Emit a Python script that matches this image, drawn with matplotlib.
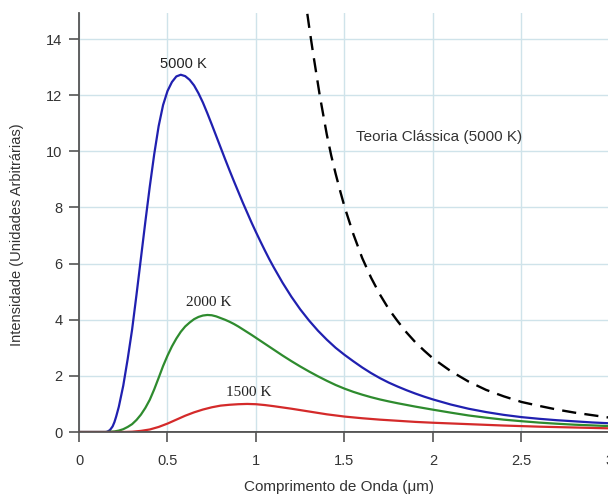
import numpy as np
import matplotlib
matplotlib.use("Agg")
from matplotlib import pyplot as plt

# curves (wavelength in um, intensity arb. units)
x_5000 = [0.0, 0.10, 0.15, 0.16, 0.175, 0.19, 0.20, 0.21, 0.225, 0.25, 0.275, 0.30,
          0.325, 0.35, 0.375, 0.40, 0.425, 0.45, 0.475, 0.50, 0.525, 0.55, 0.575, 0.60,
          0.625, 0.65, 0.675, 0.70, 0.725, 0.75, 0.775, 0.80, 0.825, 0.85, 0.875, 0.90,
          0.925, 0.95, 0.975, 1.00, 1.025, 1.05, 1.075, 1.10, 1.15, 1.20, 1.25, 1.30,
          1.35, 1.40, 1.45, 1.50, 1.55, 1.60, 1.65, 1.70, 1.75, 1.80, 1.85, 1.90, 1.95,
          2.00, 2.10, 2.20, 2.30, 2.40, 2.50, 2.60, 2.70, 2.80, 2.90, 3.00]
y_5000 = [0.0, 0.0, 0.0, 0.01, 0.07, 0.2, 0.35, 0.55, 0.9, 1.65, 2.6, 3.65,
          4.9, 6.2, 7.5, 8.75, 9.9, 10.9, 11.65, 12.15, 12.47, 12.67, 12.73, 12.68,
          12.55, 12.35, 12.07, 11.74, 11.36, 10.96, 10.55, 10.14, 9.73, 9.33, 8.94, 8.56,
          8.18, 7.82, 7.46, 7.12, 6.79, 6.47, 6.16, 5.87, 5.32, 4.82, 4.37, 3.97,
          3.61, 3.29, 3.0, 2.75, 2.52, 2.30, 2.10, 1.92, 1.76, 1.62, 1.49, 1.37, 1.26,
          1.16, 0.98, 0.83, 0.71, 0.61, 0.53, 0.47, 0.42, 0.38, 0.34, 0.31]

x_2000 = [0.0, 0.15, 0.20, 0.225, 0.25, 0.275, 0.30, 0.325, 0.35, 0.375, 0.40, 0.425,
          0.45, 0.475, 0.50, 0.525, 0.55, 0.575, 0.60, 0.625, 0.65, 0.675, 0.70, 0.725,
          0.75, 0.775, 0.80, 0.825, 0.85, 0.875, 0.90, 0.925, 0.95, 0.975, 1.00, 1.05,
          1.10, 1.15, 1.20, 1.25, 1.30, 1.35, 1.40, 1.45, 1.50, 1.55, 1.60, 1.65, 1.70,
          1.75, 1.80, 1.85, 1.90, 1.95, 2.00, 2.10, 2.20, 2.30, 2.40, 2.50, 2.60, 2.70,
          2.80, 2.90, 3.00]
y_2000 = [0.0, 0.0, 0.02, 0.05, 0.10, 0.18, 0.28, 0.43, 0.62, 0.86, 1.15, 1.52,
          1.93, 2.35, 2.72, 3.05, 3.33, 3.57, 3.76, 3.9, 4.02, 4.1, 4.15, 4.17,
          4.16, 4.12, 4.06, 4.0, 3.93, 3.85, 3.76, 3.66, 3.56, 3.46, 3.355, 3.145,
          2.935, 2.725, 2.525, 2.335, 2.155, 1.985, 1.825, 1.675, 1.545, 1.43, 1.33, 1.24,
          1.16, 1.09, 1.025, 0.965, 0.905, 0.85, 0.795, 0.69, 0.59, 0.51, 0.44, 0.385,
          0.335, 0.295, 0.26, 0.235, 0.21]

x_1500 = [0.0, 0.25, 0.30, 0.35, 0.40, 0.45, 0.50, 0.55, 0.60, 0.65, 0.70, 0.75, 0.80,
          0.85, 0.90, 0.95, 1.00, 1.05, 1.10, 1.15, 1.20, 1.25, 1.30, 1.35, 1.40, 1.45,
          1.50, 1.60, 1.70, 1.80, 1.90, 2.00, 2.20, 2.40, 2.60, 2.80, 3.00]
y_1500 = [0.0, 0.0, 0.01, 0.04, 0.09, 0.18, 0.30, 0.44, 0.58, 0.70, 0.80, 0.88, 0.94,
          0.97, 0.99, 1.0, 0.99, 0.96, 0.92, 0.875, 0.83, 0.78, 0.73, 0.68, 0.63, 0.59,
          0.55, 0.49, 0.44, 0.40, 0.36, 0.33, 0.28, 0.23, 0.19, 0.16, 0.13]

x_classic = [1.29, 1.30, 1.32, 1.34, 1.36, 1.38, 1.40, 1.425, 1.45, 1.475, 1.50, 1.55,
             1.60, 1.65, 1.70, 1.75, 1.80, 1.85, 1.90, 1.95, 2.00, 2.10, 2.20, 2.30,
             2.40, 2.50, 2.60, 2.70, 2.80, 2.90, 3.00]
y_classic = [14.9, 14.45, 13.6, 12.8, 12.0, 11.3, 10.6, 9.85, 9.2, 8.6, 8.03, 7.05,
             6.2, 5.5, 4.9, 4.38, 3.95, 3.55, 3.2, 2.9, 2.62, 2.17, 1.8, 1.5,
             1.27, 1.07, 0.93, 0.80, 0.69, 0.60, 0.51]

x_ticks = [0, 0.5, 1, 1.5, 2, 2.5, 3]
y_ticks = [0, 2, 4, 6, 8, 10, 12, 14]

plt.rcParams['font.family'] = ['Liberation Sans', 'DejaVu Sans']

fig = plt.figure(figsize=(6.08, 4.97), dpi=100)
ax = fig.add_axes([79 / 608, 65 / 497, 531 / 608, 419 / 497])

ax.set_xlim(0, 3)
ax.set_ylim(0, 14.93)
ax.set_xticks(x_ticks)
ax.set_xticklabels(['0', '0.5', '1', '1.5', '2', '2.5', '3'])
ax.set_yticks(y_ticks)
ax.grid(True, color='#cfe3ea', lw=1.0, zorder=0)
ax.set_axisbelow(True)

for s in ['top', 'right']:
    ax.spines[s].set_visible(False)
for s in ['left', 'bottom']:
    ax.spines[s].set_color('#555555')
    ax.spines[s].set_linewidth(1.3)
    ax.spines[s].set_clip_on(False)

ax.tick_params(axis='both', direction='out', length=7, width=1.2, color='#555555',
               labelsize=10.5, labelcolor='#333333')
ax.tick_params(axis='x', pad=9)
ax.tick_params(axis='y', pad=5)

line_kw = dict(lw=1.6, zorder=3, solid_joinstyle='round', solid_capstyle='round')
ax.plot(x_5000, y_5000, color='#2020b0', **line_kw)
ax.plot(x_2000, y_2000, color='#2e8b2e', **line_kw)
ax.plot(x_1500, y_1500, color='#d42a2a', **line_kw)
ax.plot(x_classic, y_classic, color='black', lw=1.7, ls=(0, (6, 3.5)), zorder=3)
ax.axhline(0, color='#555555', lw=1.3, zorder=4)

ax.text(0.588, 13.12, '5000 K', ha='center', va='center', fontsize=10.5, color='#222222')
ax.text(0.735, 4.6, '2000 K', ha='center', va='center', fontsize=11, color='#222222',
        family=['Liberation Serif', 'DejaVu Serif'])
ax.text(0.96, 1.39, '1500 K', ha='center', va='center', fontsize=11, color='#222222',
        family=['Liberation Serif', 'DejaVu Serif'])
ax.text(1.565, 10.5, 'Teoria Clássica (5000 K)', ha='left', va='center', fontsize=11,
        color='#333333')

ax.set_xlabel('Comprimento de Onda (μm)', fontsize=11, color='#333333')
ax.set_ylabel('Intensidade (Unidades Arbitrárias)', fontsize=10.5, color='#333333')
ax.xaxis.set_label_coords(0.49, -0.115)
ax.yaxis.set_label_coords(-0.104, 0.47)

fig.savefig('out.png', dpi=100)
